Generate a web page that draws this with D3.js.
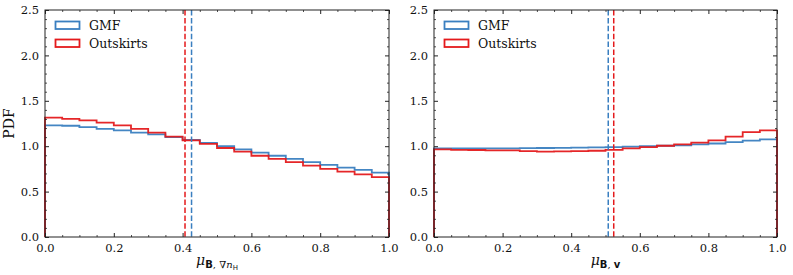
<!DOCTYPE html>
<html><head><meta charset="utf-8">
<script src="https://cdn.jsdelivr.net/npm/d3@7"></script>
<style>body{margin:0;background:#fff}svg{display:block}text{font-family:"DejaVu Serif",serif;fill:#111}</style>
</head><body>
<script>
const binEdges = d3.range(0, 21).map(i => i * 0.05);
const leftGMF = [1.23,1.225,1.21,1.19,1.175,1.15,1.13,1.10,1.07,1.035,1.00,0.965,0.93,0.895,0.86,0.825,0.795,0.765,0.74,0.71];
const leftOut = [1.315,1.30,1.285,1.26,1.23,1.19,1.15,1.105,1.065,1.025,0.98,0.94,0.895,0.86,0.825,0.785,0.75,0.72,0.69,0.66];
const rightGMF = [0.975,0.975,0.975,0.975,0.975,0.978,0.98,0.982,0.984,0.986,0.99,0.995,1.0,1.005,1.01,1.02,1.03,1.045,1.062,1.075];
const rightOut = [0.965,0.96,0.958,0.955,0.955,0.945,0.94,0.942,0.945,0.95,0.96,0.975,0.99,1.005,1.02,1.04,1.065,1.105,1.155,1.175];
const leftMedians = {gmf: 0.426, out: 0.407};
const rightMedians = {gmf: 0.508, out: 0.524};
const xTicks = [0, 0.2, 0.4, 0.6, 0.8, 1.0];
const yTicks = [0, 0.5, 1.0, 1.5, 2.0, 2.5];
const seriesNames = ["GMF", "Outskirts"];
const colors = ["#3a7fc0", "#e41a1c"];

const W = 793, H = 275;
const svg = d3.select("body").append("svg").attr("width", W).attr("height", H);

function panel(x0, x1, gmf, out, med, labelFn, showYLabel) {
  const top = 10, bottom = 237;
  const x = d3.scaleLinear().domain([0, 1]).range([x0, x1]);
  const y = d3.scaleLinear().domain([0, 2.5]).range([bottom, top]);
  const g = svg.append("g");

  function stepPath(vals) {
    const pts = [[0, 0]];
    vals.forEach((v, i) => { pts.push([binEdges[i], v]); pts.push([binEdges[i + 1], v]); });
    pts.push([1, 0]);
    return d3.line().x(d => x(d[0])).y(d => y(d[1]))(pts);
  }
  [gmf, out].forEach((vals, i) => {
    g.append("path").attr("d", stepPath(vals)).attr("fill", "none")
      .attr("stroke", colors[i]).attr("stroke-width", 1.8).attr("stroke-opacity", 0.95);
  });
  [[med.gmf, 0], [med.out, 1]].forEach(([m, i]) => {
    g.append("line").attr("x1", x(m)).attr("x2", x(m)).attr("y1", top).attr("y2", bottom)
      .attr("stroke", colors[i]).attr("stroke-width", 1.5).attr("stroke-dasharray", "5.5,2.4");
  });

  const tickFmt = d3.format(".1f");
  const ax = [
    d3.axisBottom(x).tickValues(xTicks).tickFormat(tickFmt).tickSizeInner(-4).tickSizeOuter(0).tickPadding(7),
    d3.axisTop(x).tickValues(xTicks).tickFormat("").tickSizeInner(-4).tickSizeOuter(0),
    d3.axisLeft(y).tickValues(yTicks).tickFormat(tickFmt).tickSizeInner(-4).tickSizeOuter(0).tickPadding(6),
    d3.axisRight(y).tickValues(yTicks).tickFormat("").tickSizeInner(-4).tickSizeOuter(0)
  ];
  const pos = [`translate(0,${bottom})`, `translate(0,${top})`, `translate(${x0},0)`, `translate(${x1},0)`];
  ax.forEach((a, i) => {
    const ag = g.append("g").attr("transform", pos[i]).call(a);
    ag.select(".domain").remove();
    ag.selectAll("text").style("font-size", "11.5px").attr("font-family", "DejaVu Serif").attr("fill", "#000");
    ag.selectAll("line").attr("stroke", "#222").attr("stroke-width", 1);
  });
  const xMinor = d3.range(0, 1.0001, 0.05).filter(v => Math.abs(v * 5 - Math.round(v * 5)) > 1e-6);
  const yMinor = d3.range(0, 2.5001, 0.1).filter(v => Math.abs(v * 2 - Math.round(v * 2)) > 1e-6);
  const mg = [
    d3.axisBottom(x).tickValues(xMinor).tickFormat("").tickSizeInner(-2).tickSizeOuter(0),
    d3.axisTop(x).tickValues(xMinor).tickFormat("").tickSizeInner(-2).tickSizeOuter(0),
    d3.axisLeft(y).tickValues(yMinor).tickFormat("").tickSizeInner(-2).tickSizeOuter(0),
    d3.axisRight(y).tickValues(yMinor).tickFormat("").tickSizeInner(-2).tickSizeOuter(0)
  ];
  mg.forEach((a, i) => {
    const ag = g.append("g").attr("transform", pos[i]).call(a);
    ag.select(".domain").remove();
    ag.selectAll("line").attr("stroke", "#222").attr("stroke-width", 0.8);
  });
  g.append("rect").attr("x", x0).attr("y", top).attr("width", x1 - x0).attr("height", bottom - top)
    .attr("fill", "none").attr("stroke", "#222").attr("stroke-width", 1);

  seriesNames.forEach((n, i) => {
    const ly = 25 + i * 18;
    g.append("rect").attr("x", x0 + 10.5).attr("y", ly - 3.5).attr("width", 24).attr("height", 7.5)
      .attr("fill", "none").attr("stroke", colors[i]).attr("stroke-width", 1.8);
    g.append("text").attr("x", x0 + 44).attr("y", ly + 4.5).style("font-size", "12.5px").text(n);
  });

  const t = g.append("text").attr("x", (x0 + x1) / 2).attr("y", 265).attr("text-anchor", "middle").style("font-size", "14px");
  labelFn(t);

  if (showYLabel) {
    g.append("text").attr("transform", `translate(14,${(top + bottom) / 2}) rotate(-90)`)
      .attr("text-anchor", "middle").style("font-size", "14px").text("PDF");
  }
}

panel(45, 389, leftGMF, leftOut, leftMedians, t => {
  t.append("tspan").attr("font-style", "italic").text("μ");
  t.append("tspan").attr("dy", 3).style("font-size", "10px").attr("font-family", "DejaVu Sans").attr("font-weight", "bold").text("B");
  t.append("tspan").style("font-size", "10px").text(", ∇");
  t.append("tspan").style("font-size", "10px").attr("font-style", "italic").text("n");
  t.append("tspan").attr("dy", 2).style("font-size", "7px").attr("font-family", "DejaVu Sans").text("H");
}, true);

panel(434, 777, rightGMF, rightOut, rightMedians, t => {
  t.append("tspan").attr("font-style", "italic").text("μ");
  t.append("tspan").attr("dy", 3).style("font-size", "10px").attr("font-family", "DejaVu Sans").attr("font-weight", "bold").text("B");
  t.append("tspan").style("font-size", "10px").text(", ");
  t.append("tspan").style("font-size", "10px").attr("font-family", "DejaVu Sans").attr("font-weight", "bold").text("v");
}, false);
</script>
</body></html>
